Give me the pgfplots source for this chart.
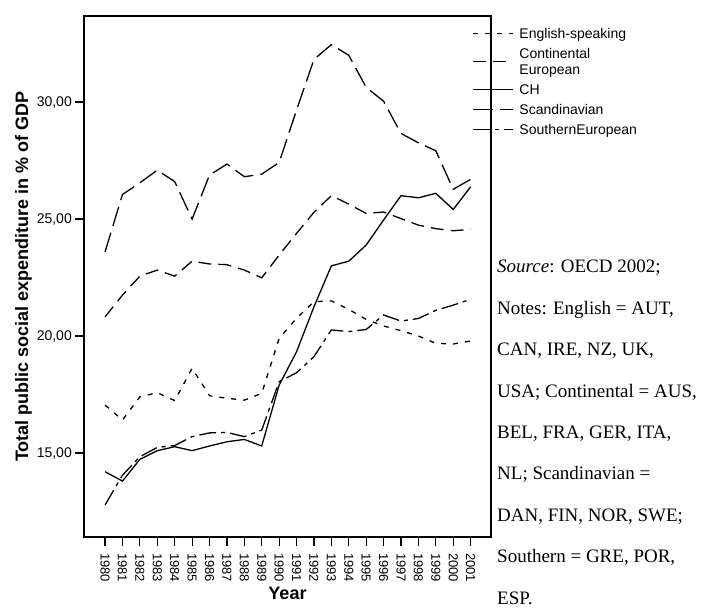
\documentclass[border=0pt]{standalone}
\usepackage{fontspec}
\setmainfont{Liberation Sans}
\newfontfamily\notefont{Liberation Serif}
\usepackage{pgfplots}
\pgfplotsset{compat=1.18}
\usepackage{pgfplotstable}
\pgfplotstableread{
Year Eng Cont CH Scan South
1980 17.05 20.82 14.20 23.60 12.78
1981 16.41 21.75 13.80 26.05 14.05
1982 17.40 22.56 14.73 26.55 14.84
1983 17.58 22.82 15.10 27.09 15.24
1984 17.24 22.56 15.27 26.60 15.32
1985 18.62 23.20 15.10 25.00 15.70
1986 17.45 23.08 15.30 26.88 15.86
1987 17.34 23.05 15.48 27.35 15.88
1988 17.26 22.82 15.58 26.81 15.70
1989 17.55 22.49 15.30 26.92 15.98
1990 19.90 23.46 17.90 27.42 18.05
1991 20.76 24.39 19.33 29.66 18.43
1992 21.47 25.29 21.25 31.82 19.12
1993 21.50 26.00 23.00 32.46 20.26
1994 21.14 25.64 23.20 32.00 20.19
1995 20.71 25.24 23.89 30.63 20.28
1996 20.43 25.30 24.96 30.04 20.90
1997 20.23 25.02 26.00 28.66 20.64
1998 20.00 24.74 25.91 28.26 20.75
1999 19.69 24.59 26.10 27.92 21.10
2000 19.66 24.50 25.41 26.27 21.32
2001 19.79 24.56 26.38 26.70 21.57
}\datatable
\newcommand\lstr{\rule[-5pt]{0pt}{20pt}}
\begin{document}
\begin{tikzpicture}
\useasboundingbox (0,0) rectangle (705pt,614pt);
\begin{axis}[
  at={(84pt,77pt)}, anchor=south west,
  width=407pt, height=521pt, scale only axis,
  xmin=1978.79, xmax=2002.17, ymin=11.41, ymax=33.68,
  xtick={1980,1981,1982,1983,1984,1985,1986,1987,1988,1989,1990,1991,1992,1993,1994,1995,1996,1997,1998,1999,2000,2001},
  xticklabels={1980,1981,1982,1983,1984,1985,1986,1987,1988,1989,1990,1991,1992,1993,1994,1995,1996,1997,1998,1999,2000,2001},
  ytick={15,20,25,30},
  yticklabels={{15,00},{20,00},{25,00},{30,00}},
  tick align=outside, tick pos=left, major tick length=9pt,
  tick style={line width=1.2pt, black},
  axis line style={line width=1.6pt},
  xticklabel style={rotate=-90, anchor=west, inner sep=0pt, font=\fontsize{13}{15}\selectfont},
  yticklabel style={anchor=east, inner sep=0pt, font=\fontsize{14}{16}\selectfont},
  xticklabel shift=7pt, yticklabel shift=3pt,
  xlabel={Year},
  ylabel={Total public social expenditure in \% of GDP},
  label style={font=\bfseries\fontsize{18}{21}\selectfont},
  xlabel style={at={(axis description cs:0.5,-0.1209)}, anchor=base, inner sep=0pt},
  ylabel style={at={(axis description cs:-0.1278,0.5)}, anchor=south, inner sep=0pt},
  legend style={at={(axis description cs:0.9533,0.98656)}, anchor=north west,
    draw=none, fill=none, inner sep=0pt, row sep=0pt, column sep=6pt,
    font=\fontsize{14}{16}\selectfont, cells={anchor=west},
    nodes={inner sep=0pt, text depth=}},
  legend image code/.code={\draw[#1] (0pt,0pt) -- (40pt,0pt);},
]
\addplot[line width=1.3pt, dash pattern=on 5pt off 7pt] table[x=Year,y=Eng]{\datatable};
\addlegendentry{\lstr English-speaking}
\addplot[line width=1.3pt, dash pattern=on 13pt off 7pt] table[x=Year,y=Cont]{\datatable};
\addlegendentry{\rule[-12.7pt]{0pt}{36pt}\begin{tabular}[c]{@{}l@{}}Continental\\European\end{tabular}}
\addplot[line width=1.3pt] table[x=Year,y=CH]{\datatable};
\addlegendentry{\lstr CH}
\addplot[line width=1.3pt, dash pattern=on 20pt off 7pt] table[x=Year,y=Scan]{\datatable};
\addlegendentry{\lstr Scandinavian}
\addplot[line width=1.3pt, dash pattern=on 17pt off 5pt on 4pt off 5pt] table[x=Year,y=South]{\datatable};
\addlegendentry{\lstr SouthernEuropean}
\end{axis}
\node[anchor=north west, inner sep=0pt, align=left, font=\notefont\fontsize{19}{41.4}\selectfont] at (497pt,354pt)
{\textit{Source}: OECD 2002;\\Notes: English = AUT,\\CAN, IRE, NZ, UK,\\USA; Continental = AUS,\\BEL, FRA, GER, ITA,\\NL; Scandinavian =\\DAN, FIN, NOR, SWE;\\Southern = GRE, POR,\\ESP.};
\end{tikzpicture}
\end{document}
